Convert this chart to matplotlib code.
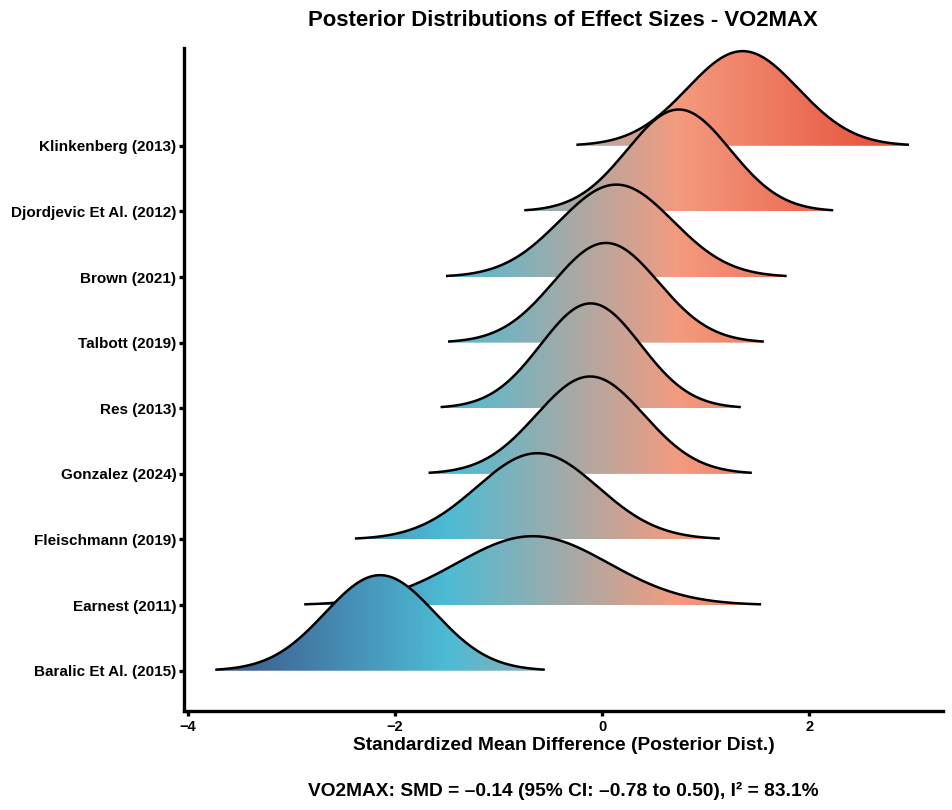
import numpy as np
import matplotlib
matplotlib.use("Agg")
import matplotlib.pyplot as plt
from matplotlib.colors import LinearSegmentedColormap, Normalize
from matplotlib.patches import Polygon

plt.rcParams['font.family'] = ['Liberation Sans', 'DejaVu Sans']
plt.rcParams['font.weight'] = 'bold'

# studies from bottom row to top row
studies = ["Baralic Et Al. (2015)", "Earnest (2011)", "Fleischmann (2019)",
           "Gonzalez (2024)", "Res (2013)", "Talbott (2019)", "Brown (2021)",
           "Djordjevic Et Al. (2012)", "Klinkenberg (2013)"]
post_mean = [-2.143, -0.67, -0.625, -0.115, -0.11, 0.037, 0.137, 0.74, 1.357]
post_sd = [0.53, 0.735, 0.587, 0.52, 0.483, 0.508, 0.548, 0.497, 0.535]

x_ticks = [-4, -2, 0, 2]
title = "Posterior Distributions of Effect Sizes - VO2MAX"
x_label = "Standardized Mean Difference (Posterior Dist.)"
caption = "VO2MAX: SMD = \u20130.14 (95% CI: \u20130.78 to 0.50), I\u00b2 = 83.1%"

palette = ['#3C5488', '#4DBBD5', '#F39B7F', '#E64B35']
ridge_scale = 1.935  # height multiplier on the density

fig = plt.figure(figsize=(9.52, 8.10), dpi=100)
ax = fig.add_axes([0.1933, 0.1222, 0.9905 - 0.1933, 0.9407 - 0.1222])

cmap = LinearSegmentedColormap.from_list('ridge', palette)
lo = min(m - 3 * s for m, s in zip(post_mean, post_sd))
hi = max(m + 3 * s for m, s in zip(post_mean, post_sd))
norm = Normalize(vmin=lo, vmax=hi)

n = len(studies)
for r in range(n - 1, -1, -1):
    m, s = post_mean[r], post_sd[r]
    xs = np.linspace(m - 3 * s, m + 3 * s, 400)
    dens = np.exp(-0.5 * ((xs - m) / s) ** 2) / (s * np.sqrt(2 * np.pi))
    ys = r + ridge_scale * dens
    z = 10 + (n - 1 - r) * 2
    verts = np.column_stack([np.r_[xs, xs[::-1]], np.r_[ys, np.full_like(xs, r)]])
    poly = Polygon(verts, closed=True, facecolor='none', edgecolor='none')
    ax.add_patch(poly)
    grad = np.linspace(xs[0], xs[-1], 600).reshape(1, -1)
    im = ax.imshow(grad, extent=[xs[0], xs[-1], r, ys.max()], origin='lower',
                   aspect='auto', cmap=cmap, norm=norm, zorder=z,
                   interpolation='bilinear')
    im.set_clip_path(poly)
    ax.plot(xs, ys, color='black', lw=1.8, zorder=z + 1, solid_capstyle='butt')

ax.set_xlim(-4.035, 3.29)
ax.set_ylim(-0.614, 9.49)
ax.set_aspect('auto')

ax.set_xticks(x_ticks)
ax.set_yticks(range(n))
ax.set_yticklabels(studies)
for sp in ['top', 'right']:
    ax.spines[sp].set_visible(False)
for sp in ['left', 'bottom']:
    ax.spines[sp].set_linewidth(2.4)
ax.tick_params(axis='both', length=3.5, width=2.4, colors='black')
ax.tick_params(axis='x', pad=3, labelsize=10.5)
ax.tick_params(axis='y', pad=2, labelsize=11)
for lbl in ax.get_xticklabels() + ax.get_yticklabels():
    lbl.set_fontweight('bold')

ax.set_xlabel(x_label, fontsize=13.8, fontweight='bold', labelpad=2)
fig.text(0.5915, 1 - 20 / 810, title, ha='center', va='center', fontsize=15.9, fontweight='bold')
fig.text(0.5915, 1 - 791 / 810, caption, ha='center', va='center', fontsize=13.8, fontweight='bold')

fig.savefig("out.png", dpi=100)
